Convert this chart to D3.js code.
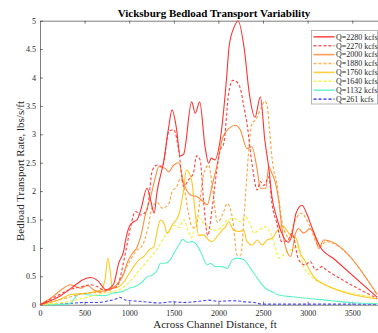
<!DOCTYPE html>
<html><head><meta charset="utf-8">
<script src="https://cdn.jsdelivr.net/npm/d3@7"></script>
<style>
html,body{margin:0;padding:0;background:#fff;}
svg{display:block;}
text{font-family:"Liberation Serif","Times New Roman",serif;}
</style></head><body>
<svg id="c" width="378" height="333"></svg>
<script>
const seriesNames = ["Q=2280 kcfs","Q=2270 kcfs","Q=2000 kcfs","Q=1880 kcfs","Q=1760 kcfs","Q=1640 kcfs","Q=1132 kcfs","Q=261 kcfs"];
const xTicks = [0,500,1000,1500,2000,2500,3000,3500];
const yTicks = [0,0.5,1,1.5,2,2.5,3,3.5,4,4.5,5];

const q2280 = [[0,0],[200,0.13],[400,0.35],[480,0.44],[570,0.48],[650,0.42],[700,0.32],[740,0.26],[790,0.3],[830,0.38],[880,0.72],[940,0.96],[960,1.14],[1000,1.37],[1050,1.46],[1090,1.5],[1130,1.67],[1200,2.05],[1240,1.84],[1280,1.61],[1310,1.97],[1390,2.55],[1440,3.1],[1480,3.43],[1530,3.1],[1570,2.62],[1610,2.65],[1700,3.57],[1740,3.37],[1790,3.57],[1850,2.78],[1890,2.49],[1920,2.58],[1960,2.55],[2020,2.9],[2090,3.96],[2120,4.55],[2180,4.9],[2220,5.0],[2290,4.5],[2345,3.73],[2410,3.3],[2470,3.66],[2520,2.9],[2565,2.4],[2600,1.9],[2660,1.5],[2710,1.26],[2780,1.1],[2820,1.2],[2870,1.61],[2937,1.75],[2990,1.6],[3046,1.37],[3140,1.02],[3300,0.8],[3780,0.13]];
const q2270 = [[0,0],[150,0.12],[325,0.26],[475,0.32],[570,0.35],[640,0.32],[715,0.26],[800,0.28],[865,0.32],[930,0.7],[975,1.05],[1015,1.37],[1070,1.64],[1130,1.58],[1200,1.67],[1260,2.37],[1315,2.46],[1370,2.43],[1445,3.05],[1500,3.08],[1555,2.72],[1610,2.08],[1665,2.2],[1720,2.32],[1755,2.62],[1795,2.55],[1835,1.8],[1880,1.22],[1930,1.7],[1980,2.35],[2020,2.72],[2060,2.84],[2115,3.72],[2160,3.95],[2200,3.93],[2250,3.78],[2285,3.49],[2320,3.19],[2375,2.5],[2435,2.02],[2470,2.17],[2510,2.1],[2565,2.25],[2600,1.78],[2655,1.43],[2710,1.11],[2770,1.12],[2825,1.26],[2900,0.79],[2970,0.7],[3030,0.76],[3090,0.61],[3160,0.67],[3210,0.61],[3270,0.55],[3780,0.11]];
const q2000 = [[0,0],[150,0.15],[270,0.3],[340,0.35],[455,0.29],[530,0.34],[605,0.26],[660,0.23],[735,0.25],[810,0.29],[885,0.4],[940,0.55],[975,0.73],[1035,0.9],[1090,1.02],[1128,1.2],[1185,1.61],[1240,1.9],[1295,2.25],[1330,2.43],[1405,2.4],[1440,2.34],[1500,2.46],[1555,2.5],[1610,2.15],[1690,1.93],[1760,1.9],[1835,1.81],[1875,1.76],[1930,2.1],[1985,2.46],[2040,2.9],[2115,3.1],[2190,3.16],[2245,3.08],[2320,2.75],[2375,2.78],[2435,2.37],[2470,2.05],[2530,2.05],[2565,2.43],[2600,2.31],[2640,2.14],[2675,1.84],[2710,1.37],[2770,0.93],[2810,0.85],[2865,1.26],[2900,1.34],[2955,1.26],[3030,1.34],[3090,1.17],[3125,0.99],[3180,1.14],[3780,0.18]];
const q1880 = [[0,0],[300,0.12],[500,0.2],[700,0.22],[830,0.3],[900,0.45],[1000,0.75],[1080,0.95],[1150,1.05],[1210,1.35],[1260,1.73],[1315,1.8],[1370,1.7],[1445,1.78],[1480,1.99],[1535,2.08],[1575,2.23],[1610,2.11],[1665,1.61],[1705,1.37],[1745,1.35],[1790,1.8],[1835,2.3],[1890,2.46],[1930,2.1],[1990,1.45],[2050,1.6],[2100,1.78],[2160,1.5],[2210,0.87],[2250,0.87],[2285,1.49],[2320,2.3],[2350,2.9],[2375,3.19],[2415,3.25],[2470,3.43],[2520,3.58],[2545,3.52],[2570,3.13],[2595,2.67],[2620,2.37],[2655,2.14],[2680,1.84],[2710,1.49],[2770,1.2],[2790,1.14],[2845,1.43],[2900,1.58],[2935,1.61],[2990,1.49],[3045,1.31],[3100,1.08],[3140,1.02],[3200,1.11],[3780,0.17]];
const q1760 = [[0,0],[200,0.08],[350,0.18],[510,0.2],[620,0.23],[680,0.26],[730,0.45],[760,0.82],[790,0.55],[810,0.29],[885,0.32],[940,0.4],[1000,0.55],[1050,0.67],[1110,0.79],[1165,0.85],[1220,0.96],[1275,1.02],[1315,1.31],[1350,1.49],[1390,1.43],[1425,1.26],[1480,1.4],[1555,1.58],[1610,2.02],[1640,2.37],[1665,2.34],[1705,2.14],[1745,1.55],[1780,1.22],[1835,1.23],[1890,1.14],[1925,1.11],[1985,1.2],[2040,1.31],[2080,1.37],[2115,1.46],[2170,1.31],[2230,1.29],[2285,1.31],[2320,1.11],[2380,1.05],[2435,1.14],[2490,1.05],[2545,1.14],[2600,1.17],[2655,1.29],[2715,1.4],[2770,1.3],[2820,1.2],[2870,1.17],[2920,0.9],[2975,0.76],[3010,0.64],[3070,0.49],[3105,0.43],[3780,0.1]];
const q1640 = [[0,0],[300,0.05],[500,0.12],[700,0.2],[885,0.26],[1000,0.4],[1110,0.6],[1220,0.8],[1330,1.02],[1405,1.22],[1460,1.31],[1500,1.4],[1560,1.36],[1610,1.5],[1660,1.3],[1700,1.18],[1760,1.55],[1855,1.4],[1950,1.31],[2040,1.37],[2100,1.49],[2170,1.52],[2250,1.46],[2300,1.55],[2360,1.4],[2395,1.26],[2450,1.31],[2525,1.37],[2600,1.2],[2640,1.0],[2680,0.82],[2730,0.88],[2790,0.96],[2840,0.97],[2880,1.05],[2920,0.88],[2955,0.67],[3010,0.55],[3090,0.43],[3125,0.4],[3780,0.13]];
const q1132 = [[0,0],[300,0.01],[340,0.02],[400,0.14],[455,0.2],[550,0.17],[735,0.16],[810,0.2],[920,0.23],[1000,0.29],[1070,0.32],[1145,0.4],[1200,0.49],[1260,0.52],[1315,0.61],[1350,0.73],[1405,0.73],[1460,0.79],[1500,0.9],[1555,1.05],[1600,1.15],[1650,1.1],[1705,1.11],[1760,1.05],[1815,0.88],[1875,0.7],[1910,0.73],[1965,0.67],[2040,0.67],[2100,0.64],[2155,0.79],[2210,0.82],[2285,0.79],[2360,0.64],[2435,0.47],[2525,0.29],[2600,0.23],[2675,0.17],[2825,0.14],[3270,0.07],[3500,0.035],[3780,0.02]];
const q261 = [[0,0],[200,0.01],[400,0.03],[500,0.04],[650,0.04],[770,0.07],[850,0.1],[890,0.13],[960,0.08],[1110,0.06],[1250,0.04],[1330,0.03],[1480,0.05],[1600,0.04],[1780,0.06],[1890,0.08],[2000,0.06],[2155,0.07],[2250,0.06],[2300,0.05],[2400,0.04],[2490,0.01],[3000,0.01],[3780,0.01]];

const seriesData = [q2280,q2270,q2000,q1880,q1760,q1640,q1132,q261];
const colors = ["#ff3333","#ff4444","#ff8c3c","#ffa53c","#ffc81e","#f5f032","#5ef2c6","#4444ff"];
const dashed = [false,true,false,true,false,true,false,true];

const svg = d3.select("#c");
const x = d3.scaleLinear().domain([0,3800]).range([40,379]);
const y = d3.scaleLinear().domain([0,5]).range([304.7,20.7]);
const axisColor = "#262626";

// axes
const gx = svg.append("g").attr("transform",`translate(0,${y(0)})`)
  .call(d3.axisBottom(x).tickValues(xTicks).tickSizeInner(-3).tickSizeOuter(0).tickPadding(6).tickFormat(d3.format("d")));
const gxt = svg.append("g").attr("transform",`translate(0,${y(5)})`)
  .call(d3.axisTop(x).tickValues(xTicks).tickSizeInner(-3).tickSizeOuter(0).tickFormat(""));
const gy = svg.append("g").attr("transform",`translate(${x(0)},0)`)
  .call(d3.axisLeft(y).tickValues(yTicks).tickSizeInner(-3).tickSizeOuter(0).tickPadding(4).tickFormat(d3.format("")));
[gx,gxt,gy].forEach(g=>{
  g.select(".domain").attr("stroke",axisColor).attr("stroke-width",0.6);
  g.selectAll(".tick line").attr("stroke",axisColor).attr("stroke-width",0.6);
  g.selectAll(".tick text").attr("fill",axisColor).style("font-size","8px").style("font-family","Liberation Serif");
});
gx.select(".tick:first-of-type line").remove();
gxt.select(".tick:first-of-type line").remove();

// lines
const line = d3.line().x(d=>x(d[0])).y(d=>y(d[1])).curve(d3.curveMonotoneX);
const plot = svg.append("g");
for (let i=seriesData.length-1;i>=0;i--){
  plot.append("path").datum(seriesData[i]).attr("d",line)
    .attr("fill","none").attr("stroke",colors[i]).attr("stroke-width",1.1)
    .attr("stroke-dasharray",dashed[i]?"3,2":null);
}

// title and labels
svg.append("text").attr("x",214).attr("y",16.5).attr("text-anchor","middle")
  .style("font-size","11px").style("font-weight","bold").attr("fill","#000")
  .text("Vicksburg Bedload Transport Variability");
svg.append("text").attr("x",215).attr("y",327.5).attr("text-anchor","middle")
  .style("font-size","11px").attr("fill","#262626")
  .text("Across Channel Distance, ft");
svg.append("text").attr("transform","translate(24,171) rotate(-90)").attr("text-anchor","middle")
  .style("font-size","11px").attr("fill","#262626")
  .text("Bedload Transport Rate, lbs/s/ft");

// legend
const lg = svg.append("g");
lg.append("rect").attr("x",311.5).attr("y",30.5).attr("width",66).attr("height",73.5)
  .attr("fill","#fff").attr("stroke","#a6a6a6").attr("stroke-width",0.8);
seriesNames.forEach((n,i)=>{
  const yy = 36.8 + i*8.9;
  lg.append("line").attr("x1",313.5).attr("x2",334.5).attr("y1",yy).attr("y2",yy)
    .attr("stroke",colors[i]).attr("stroke-width",1.6).attr("opacity",0.85)
    .attr("stroke-dasharray",dashed[i]?"3,2":null);
  lg.append("text").attr("x",336).attr("y",yy+2.8).style("font-size","8px").attr("fill","#262626").text(n);
});
</script>
</body></html>
